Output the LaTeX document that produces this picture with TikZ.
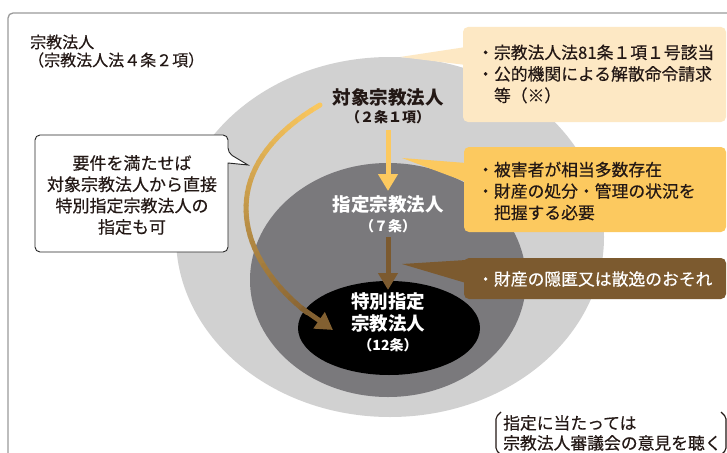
\documentclass[tikz,border=0pt]{standalone}
\usepackage{fontspec}
\setmainfont{Noto Sans CJK JP}
\newfontfamily\medfont{Noto Sans CJK JP}[FakeBold=0.4]
\usetikzlibrary{shapes.geometric,arrows.meta,calc}
\definecolor{framegray}{HTML}{9A9A9A}
\definecolor{outergray}{HTML}{D1D1D1}
\definecolor{midgray}{HTML}{7A797C}
\definecolor{cream}{HTML}{FDE8C4}
\definecolor{yel}{HTML}{FCC95F}
\definecolor{brn}{HTML}{7C5A2F}
\definecolor{ink}{HTML}{231815}
\tikzset{
  blob/.style={ellipse, inner sep=0pt, draw=none},
  infobox/.style={rectangle, rounded corners=5pt, inner sep=0pt, draw=none},
  boxtext/.style={anchor=west, align=left, inner sep=0pt, font=\medfont\fontsize{16.8}{21.5}\selectfont},
  biglabel/.style={inner sep=0pt, font=\bfseries\fontsize{18.5}{20}\selectfont},
  smalllabel/.style={inner sep=0pt, font=\bfseries\fontsize{14}{16}\selectfont},
  fatarrow/.style={line width=5pt, -{Triangle[length=17pt,width=19pt]}},
}
\begin{document}
\begin{tikzpicture}[x=1pt,y=-1pt]
\useasboundingbox (0,0) rectangle (727,452);
\clip (0,0) rectangle (727,452);
\fill[white] (0,0) rectangle (727,452);
\draw[framegray, line width=1.3pt, rounded corners=5pt] (8,13) rectangle (760,480);

% top-left title
\node[anchor=west, inner sep=0pt, text=ink, font=\medfont\fontsize{16}{19}\selectfont] (title) at (30,42) {宗教法人};
\node[anchor=west, inner sep=0pt, text=ink, font=\medfont\fontsize{16}{19}\selectfont] (title2) at (28,60) {（宗教法人法４条２項）};

% nested ellipses
\node[blob, fill=outergray, minimum width=428pt, minimum height=360pt] (outer) at (390,237) {};
\node[blob, fill=midgray, minimum width=276pt, minimum height=234pt] (mid) at (388,280) {};
\node[blob, fill=black, minimum width=182pt, minimum height=94pt] (core) at (389,328) {};

% info boxes with pointers
\node[infobox, fill=cream, minimum width=263pt, minimum height=95pt] (b1) at (594.5,74.5) {};
\fill[cream] (400,57) -- (466,47) -- (466,65) -- cycle;
\node[infobox, fill=yel, minimum width=262pt, minimum height=85pt] (b2) at (595,189.5) {};
\fill[yel] (402,158) -- (466,163) -- (466,182) -- cycle;
\node[infobox, fill=brn, minimum width=262pt, minimum height=41pt] (b3) at (595,278.5) {};
\fill[brn] (402,264) -- (466,260) -- (466,283) -- cycle;

\node[boxtext, text=ink] (b1t) at (477,74) {・宗教法人法81条１項１号該当\\・公的機関による解散命令請求\\\hspace*{1em}等（※）};
\node[boxtext, text=ink] (b2t) at (477,191) {・被害者が相当多数存在\\・財産の処分・管理の状況を\\\hspace*{1em}把握する必要};
\node[boxtext, text=white] (b3t) at (477,279) {・財産の隠匿又は散逸のおそれ};

% ellipse labels
\node[biglabel, text=ink] (l1) at (388,97) {対象宗教法人};
\node[smalllabel, text=ink] (l1s) at (388,117) {（２条１項）};
\node[biglabel, text=white] (l2) at (388,205) {指定宗教法人};
\node[smalllabel, text=white] (l2s) at (388,226) {（７条）};
\node[biglabel, text=white] (l3) at (388,302) {特別指定};
\node[biglabel, text=white] (l3b) at (388,324) {宗教法人};
\node[smalllabel, text=white] (l3s) at (388,345) {（12条）};

% straight arrows
\coordinate (a1s) at (388,130);
\coordinate (a1e) at (388,191);
\coordinate (a2s) at (388,237);
\coordinate (a2e) at (388,290);
\draw[yel, fatarrow] (a1s) -- (a1e);
\draw[brn, fatarrow] (a2s) -- (a2e);

% curved gradient arrow
\coordinate (cs) at (320,105);
\coordinate (ce) at (333,330);
\path (cs) .. controls (200,175) and (242,277) .. (ce)
  \foreach \i in {0,...,40}{ coordinate[pos=\i/40] (c\i) };
\foreach \i [evaluate=\i as \p using {int(100*\i/40)}, remember=\i as \j (initially 0)] in {1,...,36}{
  \draw[line width=5pt, line cap=round, color=brn!\p!yel] (c\j) -- (c\i);
}
\draw[brn!95!yel, fatarrow] (c35) -- (ce);

% left callout
\draw[fill=white, draw=black!85, line width=0.9pt] (130,135) [rounded corners=5pt] -- (228,135) -- (228,153) [sharp corners] -- (248,165) -- (228,163) [rounded corners=5pt] -- (228,252) -- (35,252) -- (35,135) -- cycle;
\node[align=center, inner sep=0pt, text=ink, font=\medfont\fontsize{17}{21.3}\selectfont] (ct) at (132,195) {要件を満たせば\\対象宗教法人から直接\\特別指定宗教法人の\\指定も可};

% bottom note
\node[anchor=west, align=left, inner sep=0pt, text=ink, font=\medfont\fontsize{16.8}{20}\selectfont] (bt) at (503,433) {指定に当たっては\\宗教法人審議会の意見を聴く};
\draw[ink, line width=1.1pt, rounded corners=2pt] (501,412) -- (496,417) -- (496,450) -- (501,455);
\draw[ink, line width=1.1pt, rounded corners=2pt] (721,412) -- (726,417) -- (726,450) -- (721,455);
\end{tikzpicture}
\end{document}
